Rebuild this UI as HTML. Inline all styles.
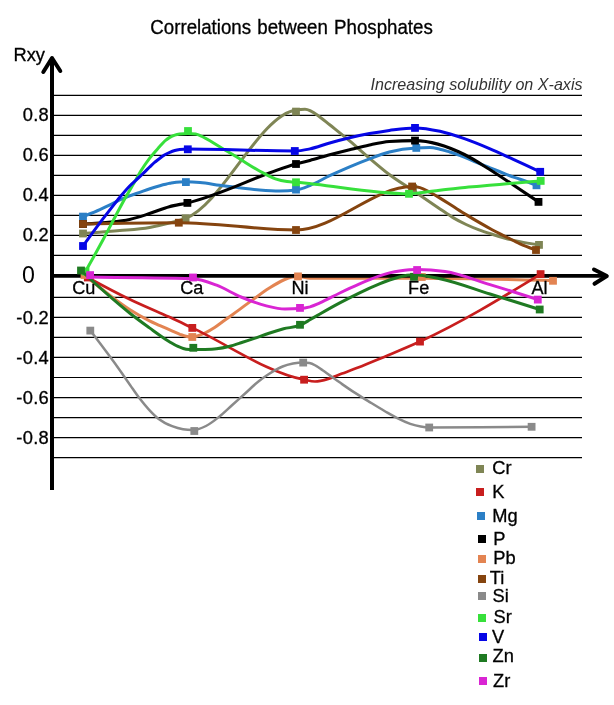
<!DOCTYPE html>
<html><head><meta charset="utf-8"><title>Correlations between Phosphates</title>
<style>
html,body{margin:0;padding:0;background:#fff;}
body{width:614px;height:705px;position:relative;overflow:hidden;font-family:"Liberation Sans",Arial,sans-serif;color:#000;}
.t{position:absolute;white-space:nowrap;line-height:1;-webkit-text-stroke:0.3px #000;}
.m{position:absolute;width:8px;height:8px;}
</style></head><body>
<svg width="614" height="705" viewBox="0 0 614 705" style="position:absolute;left:0;top:0">
<g stroke="#000" stroke-width="1.2">
<line x1="52" y1="95.4" x2="582" y2="95.4"/>
<line x1="52" y1="115.4" x2="582" y2="115.4"/>
<line x1="52" y1="135.45" x2="582" y2="135.45"/>
<line x1="52" y1="155.4" x2="582" y2="155.4"/>
<line x1="52" y1="175.45" x2="582" y2="175.45"/>
<line x1="52" y1="195.45" x2="582" y2="195.45"/>
<line x1="52" y1="215.4" x2="582" y2="215.4"/>
<line x1="52" y1="235.45" x2="582" y2="235.45"/>
<line x1="52" y1="255.4" x2="582" y2="255.4"/>
<line x1="52" y1="297.4" x2="582" y2="297.4"/>
<line x1="52" y1="317.35" x2="582" y2="317.35"/>
<line x1="52" y1="337.4" x2="582" y2="337.4"/>
<line x1="52" y1="357.45" x2="582" y2="357.45"/>
<line x1="52" y1="377.5" x2="582" y2="377.5"/>
<line x1="52" y1="397.6" x2="582" y2="397.6"/>
<line x1="52" y1="417.55" x2="582" y2="417.55"/>
<line x1="52" y1="437.55" x2="582" y2="437.55"/>
<line x1="52" y1="457.55" x2="582" y2="457.55"/>
</g>
<path d="M84.5,275.0 C93.3,282.3 102.2,289.6 111.0,296.2 C117.2,300.9 123.4,305.5 129.6,309.5 C136.2,313.8 142.9,317.5 149.5,320.8 C153.0,322.5 156.5,324.0 160.0,325.6 C164.3,327.5 168.7,329.4 173.0,331.3 C175.3,332.3 177.7,333.4 180.0,334.3 C182.0,335.0 184.0,335.8 186.0,336.2 C188.1,336.7 190.2,337.0 192.3,337.0 C196.3,337.0 200.4,335.1 204.4,333.3 C207.9,331.7 211.5,329.6 215.0,327.3 C218.3,325.1 221.7,322.4 225.0,320.0 C229.9,316.4 234.8,313.0 239.7,309.4 C244.6,305.8 249.4,302.1 254.3,298.6 C259.2,295.1 264.1,291.4 269.0,288.3 C273.9,285.2 278.7,282.1 283.6,280.0 C286.1,278.9 288.5,277.9 291.0,277.3 C293.3,276.7 295.7,276.4 298.0,276.4 C302.0,276.4 306.0,278.3 310.0,278.3 C347.2,278.3 384.3,278.3 421.5,278.3 C465.4,278.3 509.4,279.5 553.3,280.6" fill="none" stroke="#e38452" stroke-width="3" stroke-linejoin="round" stroke-linecap="round"/>
<g stroke="#000" stroke-width="4" fill="none" stroke-linecap="round" stroke-linejoin="round">
<path d="M52,490 L52,58" stroke-linecap="butt"/>
<path d="M43.3,72 L52,58 L60.3,71"/>
<path d="M52,275.9 L605,275.9" stroke-linecap="butt" stroke-width="3.7"/>
<path d="M594,269.5 L606.8,276 L594.5,283.8"/>
</g>
<path d="M83.0,233.5 C95.3,232.6 107.5,231.8 119.8,230.6 C129.7,229.7 139.7,229.2 149.6,227.4 C156.2,226.2 162.7,224.7 169.3,223.0 C174.7,221.6 180.2,220.4 185.6,218.3 C222.4,204.4 259.2,115.4 296.0,110.0 C299.0,109.6 302.0,109.3 305.0,109.3 C309.9,109.3 314.9,113.5 319.8,116.9 C323.1,119.2 326.4,122.2 329.7,124.8 C336.3,130.1 343.0,135.3 349.6,140.9 C356.2,146.5 362.9,152.6 369.5,158.2 C376.1,163.8 382.7,169.5 389.3,174.5 C397.2,180.5 405.1,185.1 413.0,190.5 C422.0,196.6 431.0,202.8 440.0,208.9 C444.3,211.8 448.7,215.0 453.0,217.6 C457.4,220.2 461.7,222.4 466.1,224.5 C470.4,226.5 474.8,228.3 479.1,229.9 C483.4,231.5 487.8,232.9 492.1,234.3 C496.4,235.7 500.8,237.0 505.1,238.2 C510.1,239.5 515.0,240.6 520.0,241.6 C526.3,242.9 532.7,243.9 539.0,244.9" fill="none" stroke="#7f8555" stroke-width="3" stroke-linejoin="round" stroke-linecap="round"/>
<rect x="79.1" y="229.6" width="7.8" height="7.8" fill="#7f8555"/>
<rect x="181.7" y="214.4" width="7.8" height="7.8" fill="#7f8555"/>
<rect x="292.1" y="107.7" width="7.8" height="7.8" fill="#7f8555"/>
<rect x="409.1" y="184.1" width="7.8" height="7.8" fill="#7f8555"/>
<rect x="535.1" y="241.0" width="7.8" height="7.8" fill="#7f8555"/>
<path d="M87.8,277.5 C101.7,285.1 115.7,292.6 129.6,299.3 C139.7,304.2 149.9,308.5 160.0,313.0 C164.3,314.9 168.7,316.8 173.0,318.8 C179.4,321.7 185.9,324.9 192.3,327.9 C229.6,345.4 266.8,372.6 304.1,379.7 C307.7,380.4 311.4,381.5 315.0,381.5 C319.7,381.5 324.4,380.0 329.1,378.6 C333.4,377.3 337.8,375.2 342.1,373.6 C347.5,371.6 352.8,369.7 358.2,367.6 C366.9,364.2 375.5,360.5 384.2,356.9 C396.1,351.9 408.1,347.1 420.0,341.6 C460.2,323.2 500.4,298.7 540.6,274.1" fill="none" stroke="#c81e1e" stroke-width="2.7" stroke-linejoin="round" stroke-linecap="round"/>
<rect x="83.9" y="273.6" width="7.8" height="7.8" fill="#c81e1e"/>
<rect x="188.4" y="324.0" width="7.8" height="7.8" fill="#c81e1e"/>
<rect x="300.2" y="375.8" width="7.8" height="7.8" fill="#c81e1e"/>
<rect x="416.1" y="337.7" width="7.8" height="7.8" fill="#c81e1e"/>
<rect x="536.7" y="270.2" width="7.8" height="7.8" fill="#c81e1e"/>
<path d="M83.0,216.6 C88.6,214.4 94.3,212.3 99.9,209.7 C103.2,208.2 106.6,206.4 109.9,204.8 C113.2,203.2 116.5,201.4 119.8,199.9 C123.1,198.4 126.4,197.1 129.7,195.8 C133.0,194.5 136.4,193.5 139.7,192.3 C143.1,191.1 146.5,189.8 149.9,188.7 C153.2,187.6 156.6,186.6 159.9,185.7 C163.2,184.8 166.5,183.9 169.8,183.3 C173.1,182.7 176.4,182.0 179.7,181.9 C181.8,181.8 183.8,181.8 185.9,181.8 C190.6,181.8 195.3,182.1 200.0,182.5 C206.6,183.1 213.1,184.4 219.7,185.3 C226.3,186.2 233.0,187.0 239.6,187.8 C246.2,188.6 252.9,189.5 259.5,190.0 C266.1,190.5 272.8,191.0 279.4,191.0 C284.9,191.0 290.5,190.7 296.0,190.0 C300.6,189.4 305.3,187.3 309.9,185.5 C316.5,182.9 323.1,178.8 329.7,175.7 C336.3,172.6 343.0,169.6 349.6,166.8 C356.2,164.0 362.9,161.3 369.5,158.8 C376.1,156.3 382.7,153.7 389.3,152.0 C398.3,149.6 407.3,148.3 416.3,147.9 C420.8,147.7 425.3,147.6 429.8,147.6 C433.1,147.6 436.5,148.5 439.8,149.2 C443.1,149.9 446.4,151.0 449.7,152.0 C453.0,153.0 456.3,154.2 459.6,155.4 C462.9,156.6 466.3,158.0 469.6,159.4 C472.9,160.8 476.2,162.2 479.5,163.6 C482.8,165.0 486.2,166.3 489.5,167.6 C492.8,168.9 496.1,170.2 499.4,171.5 C502.7,172.8 506.0,174.3 509.3,175.5 C512.6,176.8 516.0,177.8 519.3,179.0 C525.0,181.0 530.8,183.2 536.5,185.3" fill="none" stroke="#2b7fc6" stroke-width="3" stroke-linejoin="round" stroke-linecap="round"/>
<rect x="79.1" y="212.7" width="7.8" height="7.8" fill="#2b7fc6"/>
<rect x="182.0" y="178.2" width="7.8" height="7.8" fill="#2b7fc6"/>
<rect x="292.1" y="185.7" width="7.8" height="7.8" fill="#2b7fc6"/>
<rect x="412.4" y="144.0" width="7.8" height="7.8" fill="#2b7fc6"/>
<rect x="532.6" y="181.4" width="7.8" height="7.8" fill="#2b7fc6"/>
<path d="M83.0,224.0 C92.3,223.6 101.7,223.2 111.0,222.1 C117.2,221.4 123.4,220.7 129.6,219.4 C136.2,218.0 142.9,215.7 149.5,213.6 C156.1,211.5 162.7,208.5 169.3,206.7 C175.3,205.0 181.4,204.3 187.4,202.9 C223.6,194.5 259.8,173.8 296.0,164.0 C300.6,162.7 305.3,161.6 309.9,160.4 C316.5,158.6 323.1,156.6 329.7,154.8 C336.3,153.0 343.0,151.3 349.6,149.7 C356.2,148.1 362.9,146.4 369.5,145.0 C376.1,143.6 382.7,142.0 389.3,141.5 C397.9,140.9 406.4,140.6 415.0,140.6 C431.5,140.6 447.9,146.4 464.4,154.5 C472.6,158.5 480.7,163.9 488.9,169.0 C497.0,174.1 505.2,179.6 513.3,185.0 C521.7,190.6 530.1,196.2 538.5,201.9" fill="none" stroke="#000000" stroke-width="3.1" stroke-linejoin="round" stroke-linecap="round"/>
<rect x="79.1" y="220.1" width="7.8" height="7.8" fill="#000000"/>
<rect x="183.5" y="199.0" width="7.8" height="7.8" fill="#000000"/>
<rect x="292.1" y="160.1" width="7.8" height="7.8" fill="#000000"/>
<rect x="411.1" y="136.7" width="7.8" height="7.8" fill="#000000"/>
<rect x="534.6" y="198.0" width="7.8" height="7.8" fill="#000000"/>
<rect x="80.6" y="271.1" width="7.8" height="7.8" fill="#e38452"/>
<rect x="188.4" y="333.1" width="7.8" height="7.8" fill="#e38452"/>
<rect x="294.1" y="272.5" width="7.8" height="7.8" fill="#e38452"/>
<rect x="417.9" y="273.1" width="7.8" height="7.8" fill="#e38452"/>
<rect x="549.1" y="276.9" width="7.8" height="7.8" fill="#e38452"/>
<path d="M83.0,224.0 C114.9,223.3 146.9,222.7 178.8,222.7 C217.9,222.7 256.9,230.0 296.0,230.0 C334.7,230.0 373.4,186.5 412.1,186.5 C414.7,186.5 417.4,186.9 420.0,187.6 C423.3,188.5 426.7,190.6 430.0,192.3 C433.3,194.1 436.7,196.1 440.0,198.1 C444.3,200.7 448.7,203.6 453.0,206.3 C457.4,209.1 461.7,211.9 466.1,214.6 C470.4,217.3 474.8,219.9 479.1,222.4 C483.4,224.9 487.8,227.4 492.1,229.7 C496.4,232.0 500.8,234.1 505.1,236.3 C510.1,238.8 515.0,241.6 520.0,243.8 C525.3,246.2 530.7,248.1 536.0,250.0" fill="none" stroke="#85440f" stroke-width="3" stroke-linejoin="round" stroke-linecap="round"/>
<rect x="79.1" y="220.1" width="7.8" height="7.8" fill="#85440f"/>
<rect x="174.9" y="218.8" width="7.8" height="7.8" fill="#85440f"/>
<rect x="292.1" y="226.1" width="7.8" height="7.8" fill="#85440f"/>
<rect x="408.2" y="182.6" width="7.8" height="7.8" fill="#85440f"/>
<rect x="532.1" y="246.1" width="7.8" height="7.8" fill="#85440f"/>
<path d="M90.3,330.6 C100.2,343.6 110.1,356.5 120.0,370.5 C123.5,375.4 126.9,380.5 130.4,385.4 C133.4,389.7 136.5,394.3 139.5,398.3 C142.6,402.3 145.6,406.0 148.7,409.3 C152.2,413.1 155.6,416.6 159.1,419.3 C163.4,422.6 167.8,424.5 172.1,426.2 C175.7,427.6 179.4,428.7 183.0,429.3 C186.0,429.8 189.0,430.1 192.0,430.1 C196.7,430.1 201.3,428.4 206.0,426.0 C210.3,423.8 214.7,420.4 219.0,416.9 C223.3,413.4 227.7,409.1 232.0,405.2 C236.4,401.3 240.7,397.4 245.1,393.5 C249.4,389.6 253.8,385.2 258.1,381.7 C261.6,378.9 265.0,376.4 268.5,374.2 C273.2,371.2 277.9,368.3 282.6,366.5 C286.1,365.1 289.5,364.3 293.0,363.6 C296.4,363.0 299.8,362.6 303.2,362.6 C305.3,362.6 307.4,362.7 309.5,363.0 C311.7,363.3 313.9,364.6 316.1,365.8 C318.3,367.0 320.4,368.7 322.6,370.2 C324.8,371.7 326.9,373.3 329.1,374.9 C331.3,376.4 333.4,378.0 335.6,379.5 C337.8,381.0 339.9,382.6 342.1,384.1 C344.3,385.6 346.4,387.1 348.6,388.6 C350.8,390.1 352.9,391.5 355.1,392.9 C357.3,394.3 359.5,395.7 361.7,397.1 C363.9,398.5 366.0,399.8 368.2,401.1 C373.6,404.4 379.1,407.8 384.5,411.0 C388.8,413.5 393.0,416.1 397.3,418.2 C401.6,420.4 406.0,422.4 410.3,423.9 C413.8,425.1 417.2,426.0 420.7,426.6 C423.5,427.1 426.4,427.5 429.2,427.5 C463.3,427.5 497.5,427.1 531.6,426.8" fill="none" stroke="#8a8a8a" stroke-width="2.5" stroke-linejoin="round" stroke-linecap="round"/>
<rect x="86.4" y="326.7" width="7.8" height="7.8" fill="#8a8a8a"/>
<rect x="190.4" y="427.1" width="7.8" height="7.8" fill="#8a8a8a"/>
<rect x="299.3" y="358.7" width="7.8" height="7.8" fill="#8a8a8a"/>
<rect x="425.3" y="423.6" width="7.8" height="7.8" fill="#8a8a8a"/>
<rect x="527.7" y="422.9" width="7.8" height="7.8" fill="#8a8a8a"/>
<path d="M85.5,271.5 C91.3,261.1 97.1,250.8 102.9,240.0 C106.9,232.6 110.8,225.0 114.8,217.5 C118.1,211.2 121.5,204.8 124.8,198.8 C127.9,193.3 130.9,188.3 134.0,183.0 C136.4,178.8 138.9,174.2 141.3,170.3 C144.2,165.7 147.0,161.7 149.9,157.9 C153.2,153.5 156.6,150.0 159.9,146.3 C161.5,144.5 163.2,142.5 164.8,141.0 C166.5,139.5 168.1,138.4 169.8,137.4 C171.5,136.4 173.1,135.7 174.8,135.1 C176.4,134.6 178.1,134.3 179.7,134.1 C182.5,133.8 185.2,133.6 188.0,133.6 C190.5,133.6 193.1,133.8 195.6,134.1 C197.1,134.3 198.5,135.0 200.0,135.6 C206.6,138.1 213.1,142.9 219.7,146.7 C226.3,150.6 233.0,154.8 239.6,158.8 C246.2,162.9 252.9,167.4 259.5,171.0 C264.8,173.9 270.1,177.0 275.4,178.8 C279.3,180.1 283.1,181.0 287.0,181.6 C290.0,182.0 293.0,182.1 296.0,182.3 C333.7,185.3 371.3,193.8 409.0,193.8 C412.6,193.8 416.3,193.2 419.9,192.8 C426.5,192.1 433.2,191.0 439.8,190.2 C446.4,189.4 453.0,188.7 459.6,188.0 C466.2,187.3 472.9,186.8 479.5,186.2 C486.1,185.6 492.8,185.0 499.4,184.4 C506.0,183.8 512.7,183.3 519.3,182.7 C526.4,182.1 533.6,181.5 540.7,180.9" fill="none" stroke="#37e03b" stroke-width="3" stroke-linejoin="round" stroke-linecap="round"/>
<rect x="81.6" y="267.6" width="7.8" height="7.8" fill="#37e03b"/>
<rect x="184.1" y="127.1" width="7.8" height="7.8" fill="#37e03b"/>
<rect x="292.1" y="178.4" width="7.8" height="7.8" fill="#37e03b"/>
<rect x="405.1" y="189.9" width="7.8" height="7.8" fill="#37e03b"/>
<rect x="536.8" y="177.0" width="7.8" height="7.8" fill="#37e03b"/>
<path d="M83.0,246.0 C88.6,238.1 94.3,230.2 99.9,222.8 C103.2,218.4 106.6,214.2 109.9,209.9 C113.2,205.7 116.5,201.3 119.8,197.3 C123.1,193.3 126.4,189.4 129.7,186.0 C133.1,182.4 136.6,179.7 140.0,176.4 C141.7,174.8 143.3,173.2 145.0,171.6 C146.6,170.0 148.3,168.4 149.9,166.8 C151.6,165.2 153.2,163.6 154.9,162.2 C156.6,160.8 158.2,159.4 159.9,158.2 C161.5,157.0 163.2,155.8 164.8,154.8 C166.5,153.8 168.1,153.0 169.8,152.3 C171.5,151.6 173.1,151.0 174.8,150.5 C176.4,150.0 178.1,149.7 179.7,149.5 C182.3,149.2 185.0,149.1 187.6,149.1 C223.3,149.1 259.1,151.0 294.8,151.0 C299.8,151.0 304.9,149.9 309.9,148.9 C316.5,147.5 323.1,144.8 329.7,143.0 C336.3,141.1 343.0,139.4 349.6,137.8 C356.2,136.2 362.9,134.8 369.5,133.6 C376.1,132.4 382.7,131.3 389.3,130.4 C397.9,129.3 406.4,127.9 415.0,127.9 C423.3,127.9 431.7,129.5 440.0,131.3 C448.1,133.1 456.3,135.9 464.4,138.7 C472.6,141.6 480.7,144.9 488.9,148.4 C497.0,151.8 505.2,155.7 513.3,159.4 C522.3,163.5 531.2,167.6 540.2,171.8" fill="none" stroke="#0606e6" stroke-width="3" stroke-linejoin="round" stroke-linecap="round"/>
<rect x="79.1" y="242.1" width="7.8" height="7.8" fill="#0606e6"/>
<rect x="183.9" y="145.4" width="7.8" height="7.8" fill="#0606e6"/>
<rect x="290.9" y="147.1" width="7.8" height="7.8" fill="#0606e6"/>
<rect x="411.1" y="124.0" width="7.8" height="7.8" fill="#0606e6"/>
<rect x="536.3" y="167.9" width="7.8" height="7.8" fill="#0606e6"/>
<path d="M81.0,270.5 C90.6,279.3 100.2,288.1 109.8,296.4 C116.4,302.1 123.0,307.8 129.6,313.0 C136.2,318.3 142.9,323.1 149.5,327.9 C153.0,330.4 156.5,333.0 160.0,335.4 C163.1,337.6 166.3,339.8 169.4,341.7 C172.1,343.3 174.7,345.0 177.4,346.2 C179.4,347.1 181.3,348.0 183.3,348.5 C185.3,349.1 187.3,349.4 189.3,349.5 C190.7,349.6 192.1,349.6 193.5,349.6 C197.3,349.6 201.2,349.6 205.0,349.5 C208.9,349.4 212.7,349.3 216.6,348.8 C220.7,348.3 224.8,347.5 228.9,346.5 C232.9,345.5 237.0,344.1 241.0,342.8 C245.4,341.4 249.9,339.9 254.3,338.4 C259.2,336.7 264.1,334.8 269.0,333.2 C273.9,331.6 278.7,330.1 283.6,328.8 C289.1,327.4 294.5,327.5 300.0,325.2 C303.3,323.8 306.6,321.7 309.9,319.8 C313.2,317.9 316.6,315.9 319.9,314.0 C326.5,310.2 333.2,306.4 339.8,302.9 C346.4,299.4 353.0,296.0 359.6,292.8 C366.2,289.6 372.9,286.6 379.5,283.9 C382.8,282.5 386.2,281.2 389.5,280.0 C392.8,278.9 396.1,277.9 399.4,277.0 C401.9,276.3 404.5,275.6 407.0,275.2 C409.3,274.9 411.7,274.7 414.0,274.7 C422.7,274.7 431.3,277.0 440.0,278.8 C456.7,282.3 473.3,288.9 490.0,294.0 C506.6,299.1 523.1,304.3 539.7,309.5" fill="none" stroke="#1f7a22" stroke-width="3" stroke-linejoin="round" stroke-linecap="round"/>
<rect x="77.1" y="266.6" width="7.8" height="7.8" fill="#1f7a22"/>
<rect x="189.4" y="343.9" width="7.8" height="7.8" fill="#1f7a22"/>
<rect x="296.1" y="320.9" width="7.8" height="7.8" fill="#1f7a22"/>
<rect x="410.1" y="272.9" width="7.8" height="7.8" fill="#1f7a22"/>
<rect x="535.8" y="305.6" width="7.8" height="7.8" fill="#1f7a22"/>
<path d="M90.1,277.1 C124.4,277.4 158.7,277.6 193.0,278.7 C200.9,278.9 208.7,282.2 216.6,285.2 C224.7,288.3 232.9,293.6 241.0,297.0 C249.2,300.4 257.3,303.5 265.5,305.6 C272.0,307.2 278.5,309.0 285.0,309.0 C290.0,309.0 295.0,308.9 300.0,308.6 C303.3,308.4 306.6,307.8 309.9,306.9 C313.2,305.9 316.6,304.3 319.9,302.9 C326.5,300.0 333.2,296.2 339.8,293.0 C346.4,289.8 353.0,286.7 359.6,283.9 C366.2,281.0 372.9,278.1 379.5,275.9 C382.8,274.8 386.2,273.7 389.5,272.9 C392.8,272.1 396.1,271.4 399.4,270.9 C402.7,270.4 406.0,270.0 409.3,269.8 C411.9,269.7 414.4,269.6 417.0,269.6 C426.3,269.6 435.7,270.3 445.0,271.6 C460.0,273.7 475.0,280.1 490.0,284.6 C505.9,289.4 521.9,294.5 537.8,299.6" fill="none" stroke="#d925d3" stroke-width="3" stroke-linejoin="round" stroke-linecap="round"/>
<rect x="86.2" y="271.2" width="7.8" height="7.8" fill="#d925d3"/>
<rect x="189.1" y="273.6" width="7.8" height="7.8" fill="#d925d3"/>
<rect x="296.1" y="304.0" width="7.8" height="7.8" fill="#d925d3"/>
<rect x="413.2" y="266.1" width="7.8" height="7.8" fill="#d925d3"/>
<rect x="533.9" y="295.7" width="7.8" height="7.8" fill="#d925d3"/>
</svg>
<div class="t" style="left:150.3px;top:18.5px;font-size:18.7px;word-spacing:1px;transform:scaleY(1.05);transform-origin:0 84.65%;">Correlations between Phosphates</div>
<div class="t" style="left:370.5px;top:76.2px;font-size:16.1px;font-style:italic;color:#333;-webkit-text-stroke:0;">Increasing solubility on X-axis</div>
<div class="t" style="left:13.5px;top:45.8px;font-size:18.3px;">Rxy</div>
<div class="t" style="right:565.0px;top:106.1px;font-size:18.3px;letter-spacing:0.3px;">0.8</div>
<div class="t" style="right:565.0px;top:146.1px;font-size:18.3px;letter-spacing:0.3px;">0.6</div>
<div class="t" style="right:565.0px;top:186.1px;font-size:18.3px;letter-spacing:0.3px;">0.4</div>
<div class="t" style="right:565.0px;top:226.1px;font-size:18.3px;letter-spacing:0.3px;">0.2</div>
<div class="t" style="left:22.0px;top:264.0px;font-size:23.2px;-webkit-text-stroke:0;">0</div>
<div class="t" style="right:565.0px;top:308.6px;font-size:18.3px;letter-spacing:0.3px;">-0.2</div>
<div class="t" style="right:565.0px;top:348.8px;font-size:18.3px;letter-spacing:0.3px;">-0.4</div>
<div class="t" style="right:565.0px;top:389.2px;font-size:18.3px;letter-spacing:0.3px;">-0.6</div>
<div class="t" style="right:565.0px;top:429.0px;font-size:18.3px;letter-spacing:0.3px;">-0.8</div>
<div class="t" style="left:72.3px;top:279.0px;font-size:18.1px;">Cu</div>
<div class="t" style="left:180.2px;top:279.0px;font-size:18.1px;">Ca</div>
<div class="t" style="left:291.5px;top:279.0px;font-size:18.1px;">Ni</div>
<div class="t" style="left:408.1px;top:279.0px;font-size:18.1px;">Fe</div>
<div class="t" style="left:531.5px;top:279.0px;font-size:18.1px;">Al</div>
<div class="m" style="left:476.0px;top:465.0px;background:#7f8555"></div>
<div class="t" style="left:492.3px;top:459.1px;font-size:18.3px;">Cr</div>
<div class="m" style="left:476.0px;top:487.8px;background:#c81e1e"></div>
<div class="t" style="left:492.3px;top:482.6px;font-size:18.3px;">K</div>
<div class="m" style="left:477.0px;top:511.7px;background:#2b7fc6"></div>
<div class="t" style="left:492.3px;top:506.6px;font-size:18.3px;">Mg</div>
<div class="m" style="left:478.0px;top:535.0px;background:#000000"></div>
<div class="t" style="left:493.2px;top:529.6px;font-size:18.3px;">P</div>
<div class="m" style="left:478.0px;top:555.0px;background:#e38452"></div>
<div class="t" style="left:493.2px;top:549.1px;font-size:18.3px;">Pb</div>
<div class="m" style="left:478.0px;top:575.2px;background:#85440f"></div>
<div class="t" style="left:489.8px;top:569.3px;font-size:18.3px;">Ti</div>
<div class="m" style="left:478.0px;top:592.1px;background:#8a8a8a"></div>
<div class="t" style="left:492.5px;top:587.1px;font-size:18.3px;">Si</div>
<div class="m" style="left:478.0px;top:613.5px;background:#37e03b"></div>
<div class="t" style="left:493.5px;top:607.6px;font-size:18.3px;">Sr</div>
<div class="m" style="left:479.0px;top:633.2px;background:#0606e6"></div>
<div class="t" style="left:492.1px;top:628.3px;font-size:18.3px;">V</div>
<div class="m" style="left:479.0px;top:654.0px;background:#1f7a22"></div>
<div class="t" style="left:492.5px;top:647.4px;font-size:18.3px;">Zn</div>
<div class="m" style="left:479.0px;top:677.0px;background:#d925d3"></div>
<div class="t" style="left:493.0px;top:671.7px;font-size:18.3px;">Zr</div>
</body></html>
